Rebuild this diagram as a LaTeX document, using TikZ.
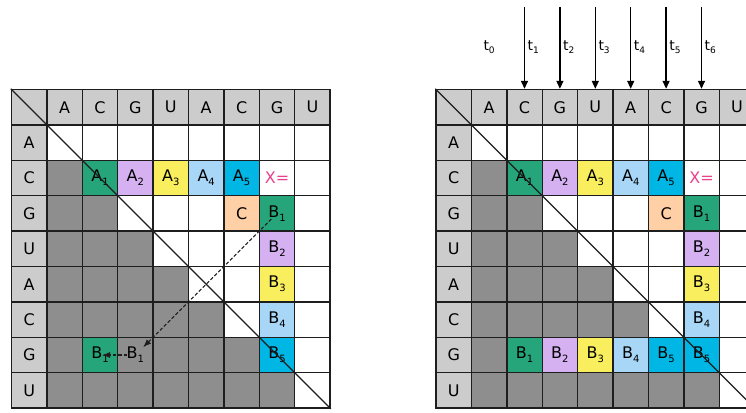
\documentclass[tikz,border=0pt]{standalone}
\usepackage{fontspec}
\setmainfont{DejaVu Sans}
\usetikzlibrary{arrows.meta}
\definecolor{hdr}{HTML}{CCCCCC}
\definecolor{dk}{HTML}{8E8E8E}
\definecolor{cgreen}{HTML}{26A57A}
\definecolor{cpurple}{HTML}{D5B1F2}
\definecolor{cyellow}{HTML}{F8EE5E}
\definecolor{clblue}{HTML}{A8D6F7}
\definecolor{ccyan}{HTML}{00B6E4}
\definecolor{cpeach}{HTML}{FFCFA5}
\definecolor{cpink}{HTML}{E8418E}
\definecolor{lin}{HTML}{1E1E1E}
\newcommand\sbs[1]{\raisebox{-0.45ex}{\fontsize{10}{10}\selectfont #1}}
\newcommand\tsb[1]{\raisebox{-0.45ex}{\fontsize{9}{9}\selectfont #1}}
\begin{document}
\begin{tikzpicture}[x=1pt,y=-1pt,
  cell/.style={draw=lin,line width=1.4pt,minimum size=35.4pt,inner sep=0pt,anchor=center,font=\fontsize{16}{16}\selectfont},
  txt/.style={inner sep=0pt,anchor=center,font=\fontsize{16}{16}\selectfont},
  diag/.style={draw=lin,line width=1.4pt},
  darr/.style={draw=lin,line width=1.1pt,dashed,dash pattern=on 3.5pt off 2pt,-{Latex[length=8pt,width=6pt]}},
  tarr/.style={draw=black,line width=1.4pt,-{Triangle[length=8pt,width=7pt]}},
  tlab/.style={inner sep=0pt,font=\fontsize{14}{14}\selectfont}]
\path[use as bounding box,clip] (0,0) rectangle (746,412);
\fill[white] (0,0) rectangle (746,412);
\foreach \p/\ox in {L/11.5,R/436}{
  \foreach \r in {0,...,8}{
    \foreach \c in {0,...,8}{
      \ifnum\r=0 \def\fc{hdr}\else\ifnum\c=0 \def\fc{hdr}\else\ifnum\c<\r \def\fc{dk}\else\def\fc{white}\fi\fi\fi
      \node[cell,fill=\fc] (\p-\r-\c) at ({\ox+35.4*(\c+0.5)},{89.5+35.4*(\r+0.5)}) {};
    }
  }
  \foreach \ch [count=\i] in {A,C,G,U,A,C,G,U}{
    \node[txt] (\p-ct\i) at (\p-0-\i) {\ch};
    \node[txt] (\p-rt\i) at (\p-\i-0) {\ch};
  }
  \foreach \c/\col [count=\i] in {2/cgreen,3/cpurple,4/cyellow,5/clblue,6/ccyan}{
    \node[cell,fill=\col] (\p-A\i) at (\p-2-\c) {A\sbs{\i}};
  }
  \node[txt,text=cpink] (\p-X) at (\p-2-7) {X=};
  \node[cell,fill=cpeach] (\p-C) at (\p-3-6) {C};
  \foreach \r/\col [count=\i] in {3/cgreen,4/cpurple,5/cyellow,6/clblue,7/ccyan}{
    \node[cell,fill=\col] (\p-B\i) at (\p-\r-7) {B\sbs{\i}};
  }
}
% left grid extras
\node[cell,fill=cgreen] (L-G1) at (L-7-2) {B\sbs{1}};
\node[txt] (L-T1) at (L-7-3) {B\sbs{1}};
% right grid bottom row
\foreach \c/\col [count=\i] in {2/cgreen,3/cpurple,4/cyellow,5/clblue,6/ccyan}{
  \node[cell,fill=\col] (R-G\i) at (R-7-\c) {B\sbs{\i}};
}
% diagonals
\draw[diag] (L-0-0.north west) -- (L-8-8.south east);
\draw[diag] (R-0-0.north west) -- (R-8-8.south east);
% dashed arrows
\draw[darr,shorten <=8pt,shorten >=11pt] (L-B1.center) -- (L-T1.center);
\draw[darr,shorten <=8pt,shorten >=2pt] (L-T1.center) -- (L-G1.center);
% time arrows
\node[tlab] (t0) at (R-0-1 |- 0,47) {t\tsb{0}};
\foreach \c [count=\i] in {2,...,7}{
  \coordinate (s\i) at (R-0-\c |- 0,7);
  \draw[tarr] (s\i) -- (R-0-\c.north);
  \node[tlab,anchor=west] (t\i) at ([xshift=3pt]R-0-\c |- 0,47) {t\tsb{\i}};
}
\end{tikzpicture}
\end{document}
